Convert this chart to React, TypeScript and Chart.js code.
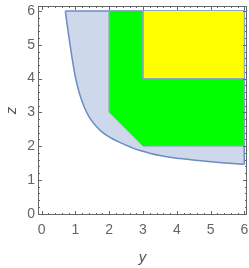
import React, { useEffect, useRef } from 'react';
import { Chart, registerables } from 'chart.js';

Chart.register(...registerables);

// Boundary curve of the light-blue region (y, z)
const curveY = [0.7, 0.76, 0.84, 0.92, 1.01, 1.13, 1.27, 1.43, 1.62, 1.82, 2.05, 2.31, 2.61, 2.91, 3.5, 4.1, 5.08, 6.0];
const curveZ = [6.0, 5.55, 5.0, 4.48, 3.98, 3.52, 3.13, 2.82, 2.58, 2.39, 2.24, 2.11, 1.98, 1.87, 1.72, 1.63, 1.53, 1.46];

// Green region polygon (open towards z = 6)
const greenY = [2, 2, 3, 6, 6];
const greenZ = [6, 3, 2, 2, 6];

// Yellow region polygon (open towards z = 6)
const yellowY = [3, 3, 6, 6];
const yellowZ = [6, 4, 4, 6];

const topZ = 6;
const xTicks = [0, 1, 2, 3, 4, 5, 6];
const yTicks = [0, 1, 2, 3, 4, 5, 6];
const xTitle = 'y';
const yTitle = 'z';

const pts = (xs: number[], ys: number[]) => xs.map((x, i) => ({ x, y: ys[i] }));

const FONT = "'Liberation Sans', Arial, sans-serif";

const framePlugin = {
  id: 'frame',
  afterDatasetsDraw(chart: any) {
    const { ctx, chartArea: a, scales } = chart;
    const sx = scales.x;
    const sy = scales.y;
    ctx.save();
    ctx.strokeStyle = '#666';
    ctx.lineWidth = 1;
    ctx.strokeRect(a.left + 0.5, a.top + 0.5, a.right - a.left - 1, a.bottom - a.top - 1);
    ctx.beginPath();
    for (let i = 0; i <= 30; i++) {
      const v = i * 0.2;
      const len = i % 5 === 0 ? 4 : 2;
      const px = Math.round(sx.getPixelForValue(v)) + 0.5;
      ctx.moveTo(px, a.bottom);
      ctx.lineTo(px, a.bottom - len);
      ctx.moveTo(px, a.top);
      ctx.lineTo(px, a.top + len);
      const py = Math.round(sy.getPixelForValue(v)) + 0.5;
      ctx.moveTo(a.left, py);
      ctx.lineTo(a.left + len, py);
      ctx.moveTo(a.right, py);
      ctx.lineTo(a.right - len, py);
    }
    ctx.stroke();
    ctx.restore();
  },
};

const noPad = (s: any) => {
  s.paddingLeft = 0;
  s.paddingRight = 0;
  s.paddingTop = 0;
  s.paddingBottom = 0;
};

export default function App() {
  const ref = useRef<HTMLCanvasElement>(null);

  useEffect(() => {
    document.body.style.margin = '0';
    const blueEdge = [
      { x: curveY[curveY.length - 1], y: curveZ[curveZ.length - 1] },
      { x: curveY[curveY.length - 1], y: topZ },
      { x: curveY[0], y: topZ },
    ];
    const chart = new Chart(ref.current as HTMLCanvasElement, {
      type: 'line',
      data: {
        datasets: [
          {
            data: pts(yellowY, yellowZ),
            fill: { value: topZ },
            backgroundColor: '#ffff00',
            borderColor: '#8fa3c9',
            borderWidth: 1,
            pointRadius: 0,
            tension: 0,
            order: 1,
          },
          {
            data: pts(greenY, greenZ),
            fill: { value: topZ },
            backgroundColor: '#00ff00',
            borderColor: '#8fa3c9',
            borderWidth: 1,
            pointRadius: 0,
            tension: 0,
            order: 2,
          },
          {
            data: blueEdge,
            fill: false,
            borderColor: '#6b8cc4',
            borderWidth: 1.5,
            pointRadius: 0,
            tension: 0,
            order: 3,
          },
          {
            data: pts(curveY, curveZ),
            fill: { value: topZ },
            backgroundColor: '#cdd8ea',
            borderColor: '#6b8cc4',
            borderWidth: 1.5,
            pointRadius: 0,
            tension: 0.4,
            order: 4,
          },
        ],
      } as any,
      options: {
        animation: false,
        responsive: false,
        maintainAspectRatio: false,
        layout: { padding: { top: 6, right: 2, left: 0, bottom: 0 } },
        plugins: { legend: { display: false }, tooltip: { enabled: false } },
        scales: {
          x: {
            type: 'linear',
            min: -0.11,
            max: 6.08,
            grid: { display: false, drawTicks: false },
            border: { display: false },
            afterBuildTicks: (s: any) => {
              s.ticks = xTicks.map((v) => ({ value: v }));
            },
            afterFit: (s: any) => {
              s.height = 53;
              noPad(s);
            },
            ticks: {
              color: '#666',
              font: { family: FONT, size: 14 },
              padding: 7,
              maxRotation: 0,
              autoSkip: false,
            },
            title: {
              display: true,
              text: xTitle,
              color: '#555',
              font: { family: FONT, size: 15, style: 'italic' },
              padding: { top: 0, bottom: 1 },
            },
          },
          y: {
            type: 'linear',
            min: -0.04,
            max: 6.15,
            grid: { display: false, drawTicks: false },
            border: { display: false },
            afterBuildTicks: (s: any) => {
              s.ticks = yTicks.map((v) => ({ value: v }));
            },
            afterFit: (s: any) => {
              s.width = 38;
              noPad(s);
            },
            ticks: {
              color: '#666',
              font: { family: FONT, size: 14 },
              padding: 3,
              autoSkip: false,
            },
            title: {
              display: true,
              text: yTitle,
              color: '#555',
              font: { family: FONT, size: 15, style: 'italic' },
              padding: { top: 3, bottom: 0 },
            },
          },
        },
      } as any,
      plugins: [framePlugin],
    });
    return () => chart.destroy();
  }, []);

  return (
    <div style={{ position: 'absolute', left: 0, top: 0, width: 249, height: 268 }}>
      <canvas ref={ref} width={249} height={268} style={{ width: 249, height: 268 }} />
    </div>
  );
}
